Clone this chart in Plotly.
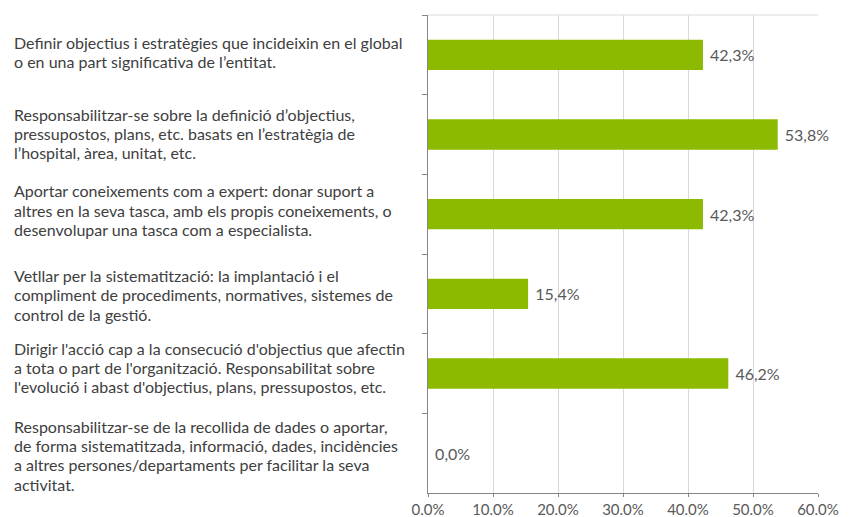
import plotly.graph_objects as go

categories = [
    "Definir objectius i estratègies que incideixin en el global<br>o en una part significativa de l’entitat.",
    "Responsabilitzar-se sobre la definició d’objectius,<br>pressupostos, plans, etc. basats en l’estratègia de<br>l’hospital, àrea, unitat, etc.",
    "Aportar coneixements com a expert: donar suport a<br>altres en la seva tasca, amb els propis coneixements, o<br>desenvolupar una tasca com a especialista.",
    "Vetllar per la sistematització: la implantació i el<br>compliment de procediments, normatives, sistemes de<br>control de la gestió.",
    "Dirigir l'acció cap a la consecució d'objectius que afectin<br>a tota o part de l'organització. Responsabilitat sobre<br>l'evolució i abast d'objectius, plans, pressupostos, etc.",
    "Responsabilitzar-se de la recollida de dades o aportar,<br>de forma sistematitzada, informació, dades, incidències<br>a altres persones/departaments per facilitar la seva<br>activitat.",
]
values = [42.3, 53.8, 42.3, 15.4, 46.2, 0.0]
x_ticks = [0, 10, 20, 30, 40, 50, 60]
x_tick_labels = ["0.0%", "10.0%", "20.0%", "30.0%", "40.0%", "50.0%", "60.0%"]

FONT = "Lato"
LINE_H = 19.4
# small vertical nudges (px, positive = up) for each description block
block_nudge = [3, 1, 4, -1, 6, -2]

value_text = [" " + f"{v:.1f}".replace(".", ",") + "%" for v in values]

fig = go.Figure(
    go.Bar(
        x=values,
        y=categories,
        orientation="h",
        marker=dict(color="#8CBA00", line=dict(width=0)),
        text=value_text,
        textposition="outside",
        textfont=dict(family=FONT, size=16, color="#595959"),
        cliponaxis=False,
        width=0.38,
    )
)

# Category descriptions: left-aligned lines with tight spacing
for cat, nudge in zip(categories, block_nudge):
    lines = cat.split("<br>")
    n = len(lines)
    for i, line in enumerate(lines):
        fig.add_annotation(
            x=0, xref="paper", xshift=-416, y=cat, yref="y",
            yshift=((n - 1) / 2 - i) * LINE_H + nudge,
            text=line, showarrow=False, xanchor="left", yanchor="middle", align="left",
            font=dict(family=FONT, size=16, color="#404040"),
        )

# Top border of the plot area
fig.add_shape(type="line", xref="x domain", yref="y domain", x0=0, x1=1, y0=1, y1=1,
              line=dict(color="#D9D9D9", width=1))

fig.update_layout(
    width=849, height=517,
    margin=dict(l=428, r=31, t=15, b=24, autoexpand=False),
    paper_bgcolor="white", plot_bgcolor="white",
    showlegend=False,
    bargap=0.62,
    xaxis=dict(
        range=[0, 60], tickvals=x_ticks, ticktext=x_tick_labels,
        showgrid=True, gridcolor="#D9D9D9", gridwidth=1,
        showline=True, linecolor="#868686", linewidth=1,
        ticks="outside", ticklen=3, tickcolor="#868686",
        tickfont=dict(family=FONT, size=15, color="#595959"),
        zeroline=False, fixedrange=True, automargin=False,
    ),
    yaxis=dict(
        autorange="reversed", showticklabels=False,
        showline=True, linecolor="#868686", linewidth=1,
        ticks="outside", ticklen=5, tickcolor="#868686", tickson="boundaries",
        showgrid=False, fixedrange=True, automargin=False,
    ),
)

fig.write_html("out.html")
